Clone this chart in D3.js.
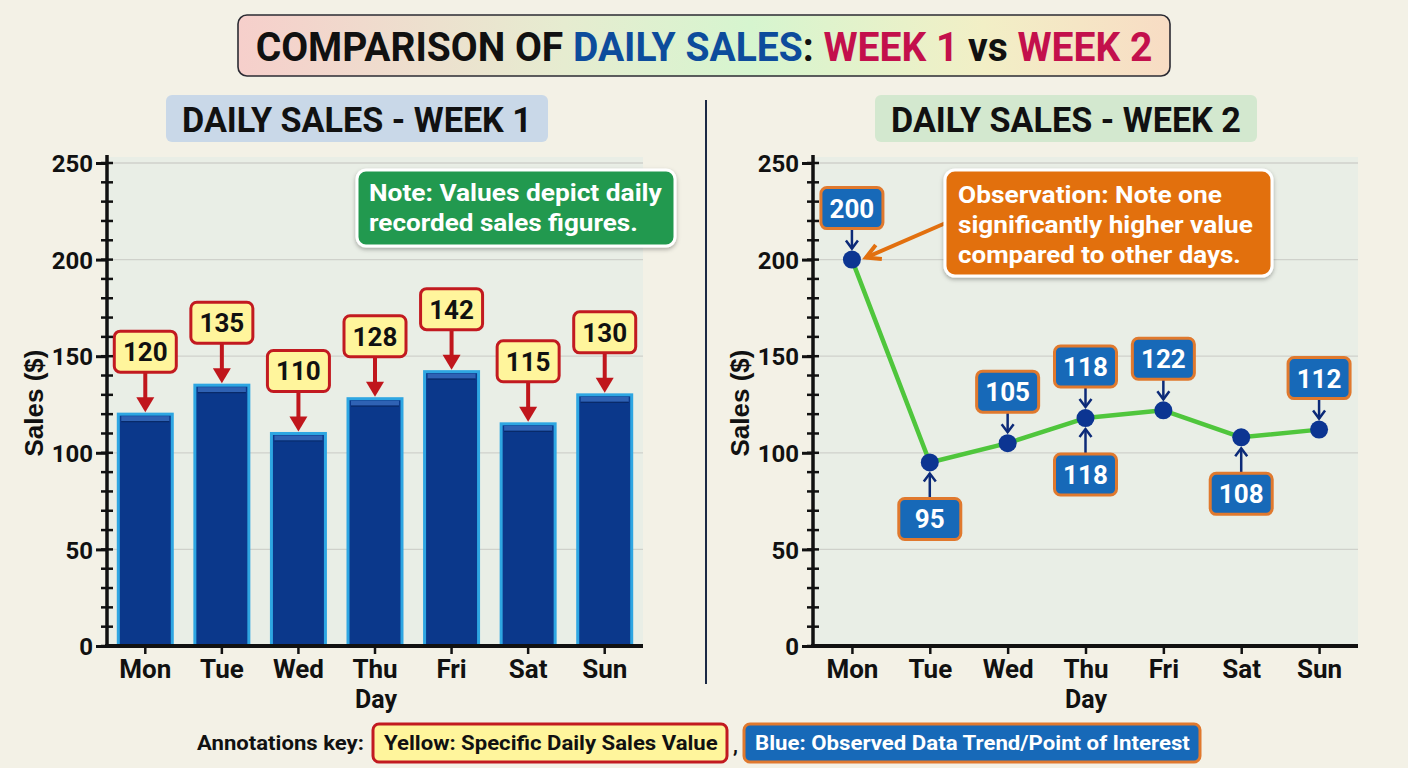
<!DOCTYPE html>
<html><head><meta charset="utf-8">
<script src="https://cdn.jsdelivr.net/npm/d3@7/dist/d3.min.js"></script>
<style>html,body{margin:0;padding:0;background:#f3f1e6;} svg{display:block;}</style>
</head><body>
<svg id="c" width="1408" height="768"></svg>
<script>
// ---------- DATA ----------
const days = ["Mon","Tue","Wed","Thu","Fri","Sat","Sun"];
const week1Sales = [120,135,110,128,142,115,130];
const week2Sales = [200,95,105,118,122,108,112];
const week2LabelSides = ["above","below","above","both","above","below","above"];
const yTicks = [0,50,100,150,200,250];
const titleParts = ["COMPARISON OF ","DAILY SALES",": ","WEEK 1"," vs ","WEEK 2"];
const panelTitles = ["DAILY SALES - WEEK 1","DAILY SALES - WEEK 2"];
const noteLines = ["Note: Values depict daily","recorded sales figures."];
const observationLines = ["Observation: Note one","significantly higher value","compared to other days."];
const keyLabel = "Annotations key:";
const keyItems = ["Yellow: Specific Daily Sales Value","Blue: Observed Data Trend/Point of Interest"];
const axisTitles = {x:"Day", y:"Sales ($)"};

// ---------- SETUP ----------
const FONT = "Roboto, 'Noto Sans', sans-serif";
const svg = d3.select("#c");
svg.append("rect").attr("width",1408).attr("height",768).attr("fill","#f3f1e6");
const defs = svg.append("defs");
const tg = defs.append("linearGradient").attr("id","tg").attr("x1","0").attr("x2","1");
[["0%","#f6cfcb"],["35%","#e6ecd0"],["55%","#d6f5cf"],["80%","#f2efc6"],["100%","#f8dcc4"]]
  .forEach(s=>tg.append("stop").attr("offset",s[0]).attr("stop-color",s[1]));
const sh = defs.append("filter").attr("id","sh").attr("x","-10%").attr("y","-10%").attr("width","130%").attr("height","140%");
sh.append("feDropShadow").attr("dx",0).attr("dy",2).attr("stdDeviation",2).attr("flood-opacity",0.3);

// fit a text element horizontally into a target width by scaling its group
function fitText(sel, x, yb, width, anchor){
  const g = sel; // a <g> containing one <text> at origin
  const t = g.select("text").node();
  const w = t.getComputedTextLength();
  const k = Math.min(1.2, width / w);
  g.attr("transform",`translate(${x},${yb}) scale(${k},1)`);
  return k;
}

// ---------- TITLE ----------
svg.append("rect").attr("x",238).attr("y",15).attr("width",932).attr("height",61).attr("rx",9)
  .attr("fill","url(#tg)").attr("stroke","#2b2b33").attr("stroke-width",1.6);
const titleColors = ["#111","#0d4c9c","#111","#c3104c","#111","#c3104c"];
const tgG = svg.append("g");
const tt = tgG.append("text").attr("x",0).attr("y",0).attr("text-anchor","middle")
  .attr("font-family",FONT).attr("font-weight",700).attr("font-size",40);
titleParts.forEach((p,i)=>tt.append("tspan").attr("fill",titleColors[i]).text(p));
fitText(tgG, 704, 61, 897);

// panel titles
const panelFill = ["#c9d8e8","#d3e8cf"];
const panelCx = [357,1066];
panelTitles.forEach((t,i)=>{
  svg.append("rect").attr("x",panelCx[i]-191).attr("y",95).attr("width",382).attr("height",47).attr("rx",6).attr("fill",panelFill[i]);
  const g = svg.append("g");
  g.append("text").attr("text-anchor","middle")
    .attr("font-family",FONT).attr("font-weight",700).attr("font-size",36).attr("fill","#111").text(t);
  fitText(g, panelCx[i], 132, 350);
});

// divider
svg.append("line").attr("x1",706).attr("x2",706).attr("y1",100).attr("y2",684).attr("stroke","#1b2a45").attr("stroke-width",2);

// ---------- AXES helper ----------
const Y0 = 646, Y1 = 163;
const y = d3.scaleLinear().domain([0,250]).range([Y0,Y1]);

function drawFrame(g, x0, x1){
  g.append("rect").attr("x",x0).attr("y",Y1-6).attr("width",x1-x0).attr("height",Y0-Y1+6).attr("fill","#e9eee6");
  g.selectAll(".grid").data(yTicks.filter(d=>d>0)).join("line")
    .attr("x1",x0).attr("x2",x1).attr("y1",d=>y(d)).attr("y2",d=>y(d))
    .attr("stroke","#cfd1cb").attr("stroke-width",1.3);
}
function drawAxes(g, x0, x1, xScale, labelX){
  g.selectAll(".minor").data(d3.range(0,251,10)).join("line")
    .attr("x1",x0-6).attr("x2",x0+6).attr("y1",d=>y(d)).attr("y2",d=>y(d))
    .attr("stroke","#111").attr("stroke-width",2.5);
  const ya = g.append("g").attr("transform",`translate(${x0},0)`)
    .call(d3.axisLeft(y).tickValues(yTicks).tickSize(11).tickSizeOuter(0).tickPadding(3));
  ya.select(".domain").attr("stroke","#111").attr("stroke-width",3.5).attr("d",`M0,${Y1-8}V${Y0}`);
  ya.selectAll(".tick line").attr("stroke","#111").attr("stroke-width",3);
  ya.selectAll(".tick text").attr("font-family",FONT).attr("font-weight",700).attr("font-size",24).attr("fill","#111").attr("dy","0.36em");
  const xa = g.append("g").attr("transform",`translate(0,${Y0})`)
    .call(d3.axisBottom(xScale).tickSize(8).tickSizeOuter(0).tickPadding(6));
  xa.select(".domain").attr("stroke","#111").attr("stroke-width",4).attr("d",`M${x0-2},0H${x1}`);
  xa.selectAll(".tick line").attr("stroke","#111").attr("stroke-width",2.5);
  xa.selectAll(".tick text").attr("font-family",FONT).attr("font-weight",700).attr("font-size",26).attr("fill","#111");
  g.append("text").attr("x",labelX).attr("y",708).attr("text-anchor","middle")
    .attr("font-family",FONT).attr("font-weight",700).attr("font-size",25).attr("fill","#111").text(axisTitles.x);
  g.append("text").attr("transform",`translate(${x0-64},403) rotate(-90)`).attr("text-anchor","middle")
    .attr("font-family","'Liberation Sans', Arial, sans-serif").attr("font-weight",700).attr("font-size",26).attr("fill","#111").text(axisTitles.y);
}

// ---------- LEFT: BAR CHART ----------
const L0 = 107, L1 = 643;
const xb = d3.scaleBand().domain(days).range([L0,L1]).paddingInner(0.295).paddingOuter(0.1475);
const gl = svg.append("g");
drawFrame(gl, L0, L1);
const bars = gl.selectAll(".bar").data(days.map((d,i)=>({d,v:week1Sales[i]}))).join("g");
bars.append("rect").attr("x",d=>xb(d.d)).attr("y",d=>y(d.v)).attr("width",xb.bandwidth()).attr("height",d=>Y0-y(d.v))
  .attr("fill","#0b388b").attr("stroke","#2ea6e2").attr("stroke-width",3);
bars.append("rect").attr("x",d=>xb(d.d)+3).attr("y",d=>y(d.v)+2).attr("width",xb.bandwidth()-6).attr("height",5)
  .attr("fill","#2f62b4");
bars.append("line").attr("x1",d=>xb(d.d)+3).attr("x2",d=>xb(d.d)+xb.bandwidth()-3).attr("y1",d=>y(d.v)+7.5).attr("y2",d=>y(d.v)+7.5)
  .attr("stroke","#082a6a").attr("stroke-width",1.2);
drawAxes(gl, L0, L1, xb, 376);

// yellow labels
bars.each(function(d){
  const g = d3.select(this);
  const cx = xb(d.d)+xb.bandwidth()/2, top = y(d.v), bb = top-42;
  g.append("line").attr("x1",cx).attr("x2",cx).attr("y1",bb).attr("y2",top-14).attr("stroke","#c0161c").attr("stroke-width",4);
  g.append("path").attr("d",`M${cx-9},${top-17}L${cx+9},${top-17}L${cx},${top-2}Z`).attr("fill","#c0161c");
  g.append("rect").attr("x",cx-31).attr("y",bb-41).attr("width",62).attr("height",41).attr("rx",6)
    .attr("fill","#fff59c").attr("stroke","#c21a20").attr("stroke-width",3);
  g.append("text").attr("x",cx).attr("y",bb-11).attr("text-anchor","middle")
    .attr("font-family",FONT).attr("font-weight",700).attr("font-size",26).attr("fill","#111").text(d.v);
});

// note box
gl.append("rect").attr("x",357).attr("y",170).attr("width",318).attr("height",76).attr("rx",9)
  .attr("fill","#22994f").attr("stroke","#fff").attr("stroke-width",3).attr("filter","url(#sh)");
const noteW = [293,269];
noteLines.forEach((t,i)=>{
  const g = gl.append("g");
  g.append("text").attr("font-family",FONT).attr("font-weight",700).attr("font-size",24).attr("fill","#fff").text(t);
  fitText(g, 369, 201+i*30, noteW[i]);
});

// ---------- RIGHT: LINE CHART ----------
const R0 = 813, R1 = 1358;
const xp = d3.scalePoint().domain(days).range([R0,R1]).padding(0.5);
const gr = svg.append("g");
drawFrame(gr, R0, R1);
drawAxes(gr, R0, R1, xp, 1086);
const pts = days.map((d,i)=>({d,v:week2Sales[i],side:week2LabelSides[i]}));
gr.append("path").datum(pts).attr("d",d3.line().x(d=>xp(d.d)).y(d=>y(d.v)))
  .attr("fill","none").attr("stroke","#4fc63c").attr("stroke-width",4.5).attr("stroke-linejoin","round");

function blueLabel(cx, cy, v, side){
  const NAVY = "#0c2a78";
  if(side==="above"){
    const bb = cy-31;
    gr.append("line").attr("x1",cx).attr("x2",cx).attr("y1",bb).attr("y2",cy-11).attr("stroke",NAVY).attr("stroke-width",2.5);
    gr.append("path").attr("d",`M${cx-6},${cy-19}L${cx},${cy-11}L${cx+6},${cy-19}`).attr("fill","none").attr("stroke",NAVY).attr("stroke-width",2.5);
    box(cx, bb-41, v);
  } else {
    const bt = cy+36;
    gr.append("line").attr("x1",cx).attr("x2",cx).attr("y1",bt).attr("y2",cy+11).attr("stroke",NAVY).attr("stroke-width",2.5);
    gr.append("path").attr("d",`M${cx-6},${cy+19}L${cx},${cy+11}L${cx+6},${cy+19}`).attr("fill","none").attr("stroke",NAVY).attr("stroke-width",2.5);
    box(cx, bt, v);
  }
}
function box(cx, top, v){
  gr.append("rect").attr("x",cx-31).attr("y",top).attr("width",62).attr("height",41).attr("rx",6)
    .attr("fill","#1769b8").attr("stroke","#e0792e").attr("stroke-width",3);
  gr.append("text").attr("x",cx).attr("y",top+30).attr("text-anchor","middle")
    .attr("font-family",FONT).attr("font-weight",700).attr("font-size",26).attr("fill","#fff").text(v);
}
pts.forEach(p=>{
  const cx = xp(p.d), cy = y(p.v);
  if(p.side==="both"){ blueLabel(cx,cy,p.v,"above"); blueLabel(cx,cy,p.v,"below"); }
  else blueLabel(cx,cy,p.v,p.side);
});
gr.selectAll(".pt").data(pts).join("circle").attr("cx",d=>xp(d.d)).attr("cy",d=>y(d.v)).attr("r",9).attr("fill","#0c3592");

// observation callout
const peak = pts[d3.maxIndex(pts,d=>d.v)];
const ax = xp(peak.d)+14, ay = y(peak.v)-2, sx = 948, sy = 222;
const ang = Math.atan2(ay-sy, ax-sx);
gr.append("line").attr("x1",sx).attr("y1",sy).attr("x2",ax).attr("y2",ay).attr("stroke","#e2700f").attr("stroke-width",4);
const hl = 16, ha = 0.5;
gr.append("path").attr("d",`M${ax-hl*Math.cos(ang-ha)},${ay-hl*Math.sin(ang-ha)}L${ax},${ay}L${ax-hl*Math.cos(ang+ha)},${ay-hl*Math.sin(ang+ha)}`)
  .attr("fill","none").attr("stroke","#e2700f").attr("stroke-width",4).attr("stroke-linejoin","miter");
gr.append("rect").attr("x",945).attr("y",170).attr("width",327).attr("height",106).attr("rx",10)
  .attr("fill","#e2700f").attr("stroke","#fff").attr("stroke-width",3).attr("filter","url(#sh)");
const obsW = [264,295,283];
observationLines.forEach((t,i)=>{
  const g = gr.append("g");
  g.append("text").attr("font-family",FONT).attr("font-weight",700).attr("font-size",24).attr("fill","#fff").text(t);
  fitText(g, 958, 203+i*30, obsW[i]);
});

// ---------- KEY ----------
function keyText(x, w, t, fill){
  const g = svg.append("g");
  g.append("text").attr("font-family",FONT).attr("font-weight",700).attr("font-size",20).attr("fill",fill).text(t);
  fitText(g, x, 750, w);
}
keyText(197, 167, keyLabel, "#111");
svg.append("rect").attr("x",373).attr("y",724).attr("width",354).attr("height",38).attr("rx",6)
  .attr("fill","#fff59c").attr("stroke","#c21a20").attr("stroke-width",3);
keyText(384, 334, keyItems[0], "#111");
svg.append("text").attr("x",733).attr("y",752).attr("font-family",FONT).attr("font-weight",700).attr("font-size",20).attr("fill","#111").text(",");
svg.append("rect").attr("x",744).attr("y",724).attr("width",456).attr("height",38).attr("rx",6)
  .attr("fill","#1769b8").attr("stroke","#e0792e").attr("stroke-width",3);
keyText(755, 435, keyItems[1], "#fff");
</script>
</body></html>
